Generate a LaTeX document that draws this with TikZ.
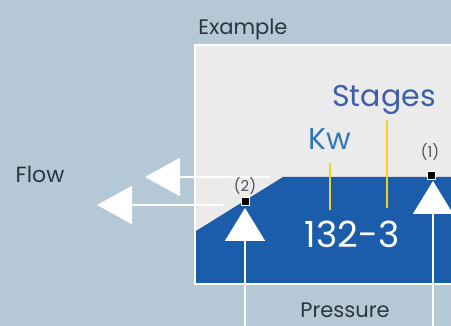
\documentclass[tikz,border=0pt]{standalone}
\usepackage{fontspec}
\setmainfont{Poppins}
\usetikzlibrary{arrows.meta}
\definecolor{bgc}{HTML}{B4C8D6}
\definecolor{panelc}{HTML}{EBEBEB}
\definecolor{bluec}{HTML}{1C5DAB}
\definecolor{txtc}{HTML}{2B3540}
\definecolor{tblue}{HTML}{3D5FAA}
\definecolor{yellc}{HTML}{F2D21C}
\tikzset{
  lbl/.style={text=txtc, inner sep=0pt, anchor=base},
  bigblue/.style={text=tblue, inner sep=0pt, anchor=base},
  pt/.style={draw=white, fill=black, line width=1pt, minimum size=8pt, inner sep=0pt},
  small/.style={text=txtc!85, inner sep=0pt, font=\fontsize{15}{17}\selectfont},
  flowarrow/.style={draw=white, line width=2pt, -{Triangle[width=38pt,length=35pt,fill=white]}},
  presarrow/.style={draw=white, line width=2pt, -{Triangle[width=40pt,length=33pt,fill=white]}},
  yline/.style={draw=yellc, line width=2pt}
}
\begin{document}
\begin{tikzpicture}[x=1pt,y=-1pt]
\fill[bgc] (0,0) rectangle (451,326);
\useasboundingbox (0,0) rectangle (451,326);
% panel
\path[fill=panelc, draw=white, line width=2pt] (195,45) rectangle (460,284);
% blue shape
\fill[bluec] (196,231) -- (283,177) -- (460,177) -- (460,283) -- (196,283) -- cycle;
% texts
\node[lbl, font=\fontsize{21}{24}\selectfont] (ex) at (243,35) {Example};
\node[lbl, font=\fontsize{22}{25}\selectfont] (flow) at (40,183) {Flow};
\node[lbl, font=\fontsize{21}{24}\selectfont] (pres) at (345,318) {Pressure};
\node[bigblue, font=\fontsize{30}{34}\selectfont] (st) at (384,107) {Stages};
\node[bigblue, text=tblue!85!cyan, font=\fontsize{30}{34}\selectfont] (kw) at (330,150) {Kw};
\node[lbl, text=white, font=\fontsize{36}{40}\selectfont] (num) at (352,248) {132-3};
% yellow lines
\coordinate (y1a) at (330,163); \coordinate (y1b) at (330,210);
\coordinate (y2a) at (387,120); \coordinate (y2b) at (387,208);
\draw[yline] (y1a) -- (y1b);
\draw[yline] (y2a) -- (y2b);
% flow arrows
\coordinate (fa1) at (270,177); \coordinate (fa2) at (145,177);
\coordinate (fb1) at (223,205); \coordinate (fb2) at (97,205);
\draw[flowarrow] (fa1) -- (fa2);
\draw[flowarrow] (fb1) -- (fb2);
% pressure arrows
\coordinate (pa1) at (245,330); \coordinate (pa2) at (245,208);
\coordinate (pb1) at (433,330); \coordinate (pb2) at (433,181);
\draw[presarrow] (pa1) -- (pa2);
\draw[presarrow] (pb1) -- (pb2);
% points
\node[pt] (p2) at (245,202) {};
\node[pt] (p1) at (431,176) {};
\node[small] (l2) at (245,186) {(2)};
\node[small] (l1) at (430,152) {(1)};
\end{tikzpicture}
\end{document}
